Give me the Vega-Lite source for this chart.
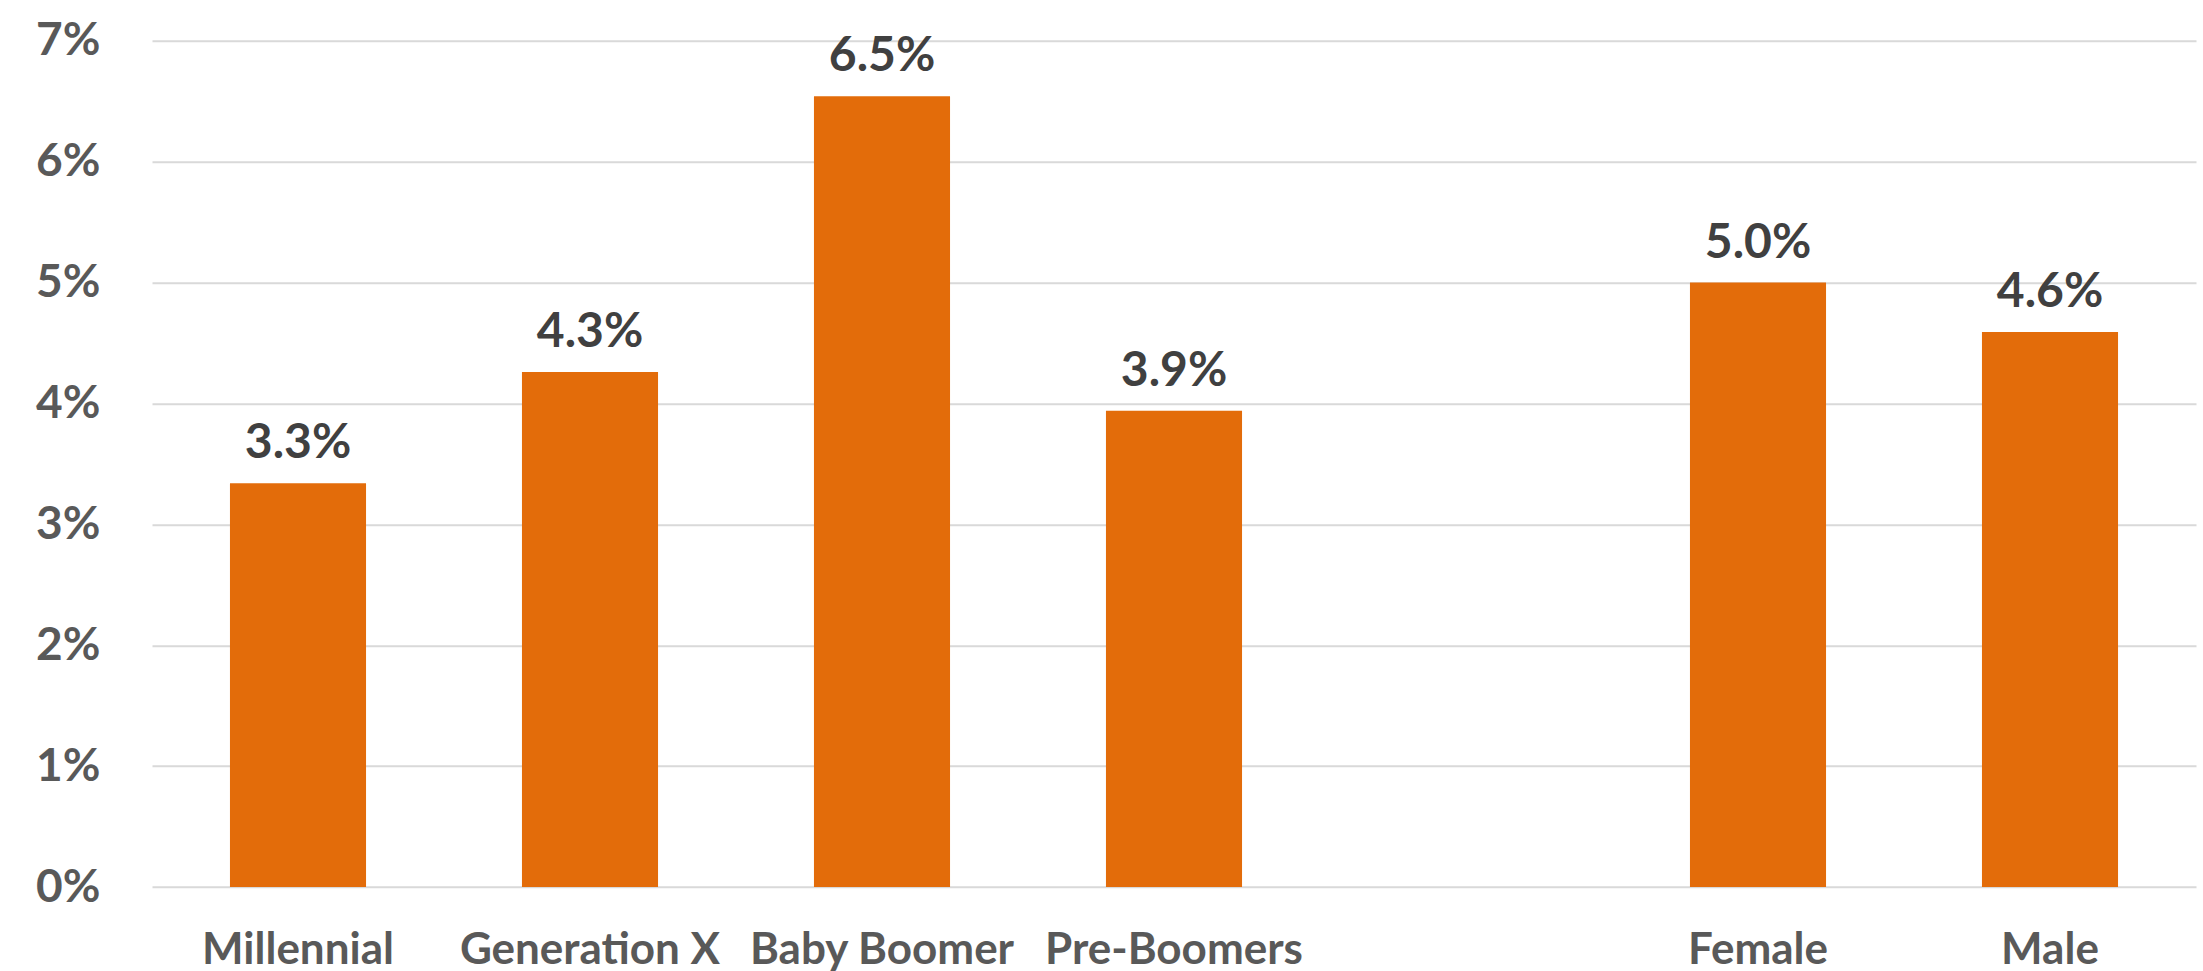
{
  "$schema": "https://vega.github.io/schema/vega-lite/v6.json",
  "autosize": "none",
  "width": 2044,
  "height": 846.3,
  "padding": {"left": 152, "top": 40.7, "right": 7, "bottom": 84},
  "background": "white",
  "config": {
    "view": {"stroke": null},
    "font": "Lato"
  },
  "data": {
    "values": [
      {"group": "Millennial", "rate": 0.0334},
      {"group": "Generation X", "rate": 0.0426},
      {"group": "Baby Boomer", "rate": 0.0654},
      {"group": "Pre-Boomers", "rate": 0.0394},
      {"group": "Female", "rate": 0.0500},
      {"group": "Male", "rate": 0.0459}
    ]
  },
  "encoding": {
    "x": {
      "field": "group",
      "type": "nominal",
      "sort": null,
      "scale": {
        "domain": ["Millennial", "Generation X", "Baby Boomer", "Pre-Boomers", " ", "Female", "Male"],
        "paddingInner": 0.534,
        "paddingOuter": 0.267
      },
      "axis": {
        "title": null,
        "labelAngle": 0,
        "domain": false,
        "ticks": false,
        "labelFont": "Lato",
        "labelFontWeight": "bold",
        "labelFontSize": 44,
        "labelColor": "#595959",
        "labelPadding": 76,
        "labelBaseline": "alphabetic",
        "labelOverlap": false,
        "labelLimit": 0
      }
    },
    "y": {
      "field": "rate",
      "type": "quantitative",
      "scale": {"domain": [0, 0.07], "nice": false},
      "axis": {
        "title": null,
        "format": ".0%",
        "values": [0, 0.01, 0.02, 0.03, 0.04, 0.05, 0.06, 0.07],
        "domain": false,
        "ticks": false,
        "grid": true,
        "gridColor": "#D9D9D9",
        "gridWidth": 2,
        "labelFont": "Lato",
        "labelFontWeight": "bold",
        "labelFontSize": 46,
        "labelColor": "#595959",
        "labelPadding": 52
      }
    }
  },
  "layer": [
    {
      "mark": {"type": "bar", "color": "#E36C0A"}
    },
    {
      "mark": {
        "type": "text",
        "dy": -25,
        "baseline": "alphabetic",
        "font": "Lato",
        "fontWeight": "bold",
        "fontSize": 48,
        "color": "#404040"
      },
      "encoding": {
        "text": {"field": "rate", "type": "quantitative", "format": ".1%"}
      }
    }
  ]
}
